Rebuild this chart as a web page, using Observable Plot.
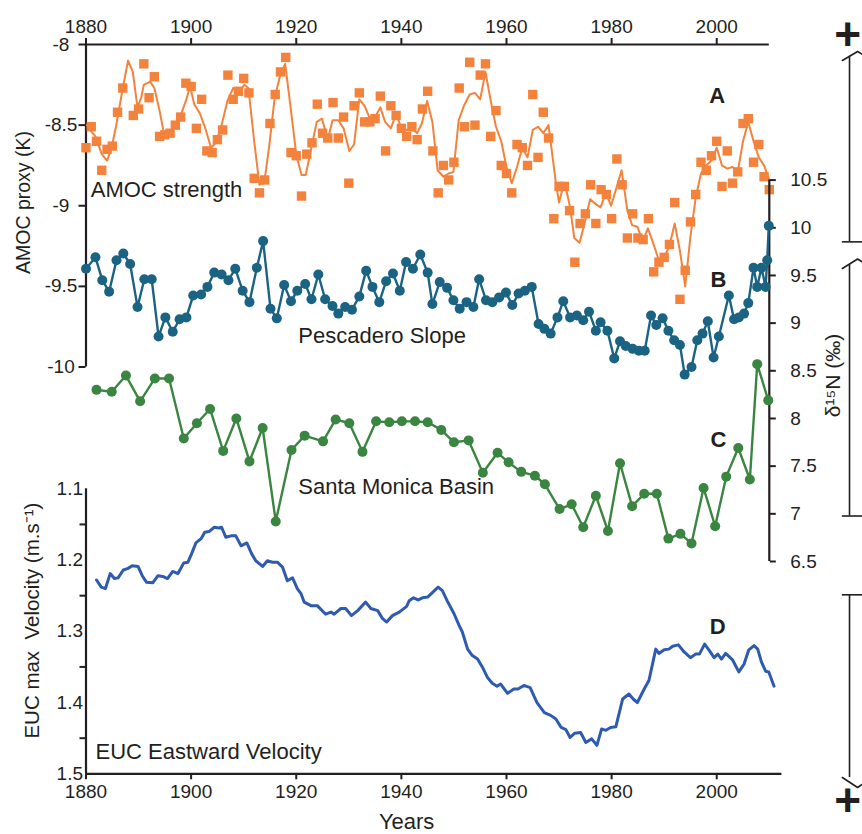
<!DOCTYPE html>
<html>
<head>
<meta charset="utf-8">
<script src="https://cdn.jsdelivr.net/npm/d3@7"></script>
<script src="https://cdn.jsdelivr.net/npm/@observablehq/plot@0.6"></script>
<style>
  html, body { margin: 0; padding: 0; background: #ffffff; }
  #wrap { position: relative; width: 862px; height: 834px; overflow: hidden; background: #ffffff; }
  #wrap svg { position: absolute; left: 0; top: 0; }
</style>
</head>
<body>
<div id="wrap"></div>
<script>
// ---------------- DATA ----------------
const xTicks = [1880, 1900, 1920, 1940, 1960, 1980, 2000];

// A: AMOC proxy (K) — annual squares
const amocYears = [1880,1881,1882,1883,1884,1885,1886,1887,1889,1890,1891,1892,1893,1894,1895,1896,1897,1898,1899,
  1900,1901,1902,1903,1904,1905,1906,1907,1908,1909,1910,1911,1912,1913,1914,1915,1916,1917,1918,1919,
  1920,1921,1922,1923,1924,1925,1926,1927,1928,1929,1930,1931,1932,1933,1934,1935,1936,1937,1938,1939,
  1940,1941,1942,1943,1944,1945,1946,1947,1948,1949,1950,1951,1952,1953,1954,1955,1956,1957,1958,1959,
  1960,1961,1962,1963,1964,1965,1966,1967,1968,1969,1970,1971,1972,1973,1974,1975,1976,1977,1978,1979,
  1980,1981,1982,1983,1984,1985,1986,1987,1988,1989,1990,1991,1992,1993,1994,1995,1996,1997,1998,1999,
  2000,2001,2002,2003,2004,2005,2006,2007,2008,2009,2010];
const amocValues = [-8.64,-8.51,-8.60,-8.78,-8.65,-8.63,-8.42,-8.27,-8.44,-8.40,-8.12,-8.33,-8.20,-8.57,-8.56,-8.55,-8.50,-8.45,-8.24,
  -8.26,-8.52,-8.34,-8.66,-8.67,-8.59,-8.53,-8.19,-8.34,-8.29,-8.21,-8.30,-8.83,-8.92,-8.84,-8.49,-8.31,-8.17,-8.08,-8.67,
  -8.69,-8.94,-8.68,-8.61,-8.37,-8.55,-8.58,-8.36,-8.58,-8.45,-8.86,-8.38,-8.30,-8.48,-8.48,-8.46,-8.32,-8.66,-8.38,-8.44,
  -8.52,-8.57,-8.51,-8.59,-8.40,-8.29,-8.66,-8.92,-8.75,-8.84,-8.73,-8.27,-8.51,-8.11,-8.50,-8.19,-8.12,-8.57,-8.41,-8.75,
  -8.80,-8.92,-8.62,-8.64,-8.75,-8.31,-8.70,-8.42,-8.58,-9.08,-8.88,-8.88,-9.03,-9.35,-9.11,-9.05,-8.87,-9.11,-8.90,-8.93,
  -9.08,-8.71,-8.87,-9.20,-9.05,-9.20,-9.21,-9.08,-9.41,-9.35,-9.32,-9.24,-8.98,-9.58,-9.40,-9.10,-8.93,-8.73,-8.78,-8.69,
  -8.60,-8.88,-8.66,-8.86,-8.79,-8.49,-8.46,-8.73,-8.62,-8.82,-8.90];

// A: smoothed AMOC line
const amocSmoothYears = [1880.2,1881,1881.8,1883,1884,1884.8,1885.7,1887,1888,1888.9,1889.8,1890.5,1891,1892.2,1893,1894,1894.8,1895.8,1897,1898,1899,1899.8,
  1900.6,1901.7,1902.6,1903.8,1904.7,1905.8,1906.9,1908,1909,1910.1,1910.9,1912,1913,1913.9,1914.9,1915.9,1917.1,1917.9,1919,
  1920,1921,1921.8,1923,1923.9,1924.9,1926,1926.9,1928,1929,1930.1,1931,1932,1933,1933.9,1935,1936,1936.9,1938,1939,
  1939.9,1940.9,1941.9,1943,1943.9,1944.9,1945.9,1946.9,1948,1949,1949.9,1950.9,1951.9,1953,1954,1955,1956,1957,1958,1959,
  1960,1961,1962,1963,1964,1965,1966,1967,1968,1969.4,1970,1970.7,1971.3,1972.1,1972.9,1973.9,1975,1975.9,1977,1977.9,1978.9,
  1979.9,1980.9,1981.9,1983,1983.9,1984.9,1985.9,1986.9,1988,1989,1990,1991,1992,1993,1994,1995,1996,1997,1998,1999,
  2000,2001,2002,2003,2004,2005,2006,2007,2008,2009,2010];
const amocSmoothValues = [-8.50,-8.54,-8.57,-8.68,-8.72,-8.65,-8.51,-8.27,-8.10,-8.17,-8.39,-8.33,-8.25,-8.23,-8.27,-8.41,-8.55,-8.55,-8.50,-8.44,-8.35,-8.26,
  -8.37,-8.43,-8.51,-8.64,-8.61,-8.50,-8.35,-8.27,-8.30,-8.25,-8.27,-8.60,-8.87,-8.86,-8.62,-8.33,-8.17,-8.12,-8.41,
  -8.68,-8.81,-8.81,-8.62,-8.48,-8.46,-8.59,-8.47,-8.47,-8.52,-8.66,-8.62,-8.34,-8.38,-8.45,-8.45,-8.39,-8.48,-8.52,-8.43,
  -8.51,-8.53,-8.52,-8.55,-8.49,-8.35,-8.48,-8.78,-8.82,-8.80,-8.79,-8.47,-8.38,-8.31,-8.30,-8.34,-8.17,-8.35,-8.51,-8.60,
  -8.76,-8.86,-8.76,-8.64,-8.70,-8.53,-8.51,-8.55,-8.50,-8.86,-8.98,-8.89,-8.89,-9.01,-9.20,-9.23,-9.09,-8.96,-8.99,-9.01,-8.92,
  -9.00,-8.89,-8.78,-9.03,-9.12,-9.13,-9.22,-9.14,-9.24,-9.34,-9.32,-9.25,-9.11,-9.28,-9.50,-9.19,-8.95,-8.80,-8.75,-8.72,
  -8.64,-8.75,-8.77,-8.76,-8.79,-8.60,-8.48,-8.60,-8.70,-8.75,-8.84];

// B: Pescadero Slope δ15N (‰)
const pescaderoYears = [1880,1881.8,1883.1,1884.4,1885.8,1887.1,1888.4,1889.8,1891.1,1892.5,1893.8,1895.1,1896.5,1897.8,1899.1,
  1900.4,1901.9,1903.1,1904.4,1905.8,1907.1,1908.4,1909.8,1911.1,1912.5,1913.7,1915.1,1916.3,1917.7,1919,
  1920.2,1921.7,1922.9,1924.2,1925.5,1926.9,1928,1929.3,1930.6,1932,1933.3,1934.5,1935.8,1937.1,1938.4,1939.7,
  1940.9,1942.2,1943.6,1945,1945.9,1947.3,1948.7,1949.9,1951.1,1952.4,1953.7,1954.8,1956.1,1957.3,1958.6,1959.9,
  1961.1,1962.3,1963.5,1964.8,1966.1,1967.2,1968.4,1969.7,1970.8,1972.1,1973.4,1974.6,1975.7,1977,1977.9,1979.2,
  1980.5,1981.6,1982.7,1984,1985.2,1986.3,1987.5,1988.5,1989.7,1990.8,1991.9,1993,1993.9,1995.2,1996.3,1997.3,1998.3,1999.4,
  2000.4,2002.3,2003.3,2004.2,2005.2,2006,2007,2007.7,2008.5,2009.3,2009.6,2009.9];
const pescaderoValues = [9.57,9.69,9.45,9.33,9.66,9.73,9.62,9.17,9.46,9.46,8.86,9.06,8.91,9.04,9.06,
  9.29,9.30,9.38,9.53,9.51,9.45,9.57,9.34,9.22,9.58,9.86,9.15,9.05,9.40,9.23,
  9.34,9.41,9.25,9.51,9.25,9.18,9.10,9.17,9.14,9.28,9.55,9.38,9.22,9.44,9.52,9.34,
  9.64,9.57,9.72,9.53,9.20,9.43,9.37,9.24,9.15,9.22,9.17,9.46,9.24,9.22,9.27,9.32,
  9.19,9.31,9.34,9.38,8.99,8.94,8.89,9.06,9.23,9.06,9.08,9.03,9.12,8.92,9.01,8.92,
  8.63,8.81,8.76,8.73,8.71,8.71,9.08,8.98,9.05,8.92,8.82,8.77,8.46,8.54,8.82,8.89,9.02,8.64,
  8.86,9.29,9.04,9.06,9.10,9.21,9.58,9.38,9.58,9.38,9.66,10.02];

// C: Santa Monica Basin δ15N (‰)
const santaMonicaYears = [1882,1884.9,1887.6,1890.3,1893.1,1895.8,1898.6,1901.1,1903.6,1906.1,1908.6,1911.1,1913.6,1916.1,1919.1,
  1921.6,1925.1,1927.5,1930.1,1932.6,1935.2,1937.7,1940.1,1942.6,1945,1947.6,1950,1952.8,1955.5,1958.3,
  1960.4,1962.8,1965.4,1967.3,1970.1,1972.4,1974.6,1977,1979.3,1981.6,1983.9,1986.2,1988.6,1990.8,1993.1,
  1995.2,1997.5,1999.7,2001.8,2004.1,2006.3,2007.7,2009.8];
const santaMonicaValues = [8.30,8.28,8.45,8.18,8.42,8.42,7.79,7.95,8.10,7.66,8.00,7.55,7.90,6.92,7.67,
  7.82,7.76,7.99,7.95,7.65,7.97,7.96,7.97,7.97,7.96,7.88,7.75,7.77,7.43,7.64,
  7.54,7.44,7.40,7.31,7.05,7.10,6.86,7.19,6.82,7.53,7.08,7.21,7.21,6.74,6.79,
  6.69,7.27,6.87,7.39,7.69,7.36,8.57,8.19];

// D: EUC max velocity (m.s-1)
const eucYears = [1882,1882.9,1883.7,1884.6,1885.4,1886.1,1887.1,1887.9,1888.8,1889.9,1890.7,1891.5,1892.7,1893.7,1894.6,1895.5,1896.5,1897.5,1898.6,1899.4,
  1900.1,1900.9,1901.9,1902.6,1903.4,1904.4,1905.3,1905.8,1906.6,1907.6,1908.5,1909.5,1910.6,1911.5,1912.3,1913.6,1914.5,1915.5,1916.4,1917.4,1918.3,1919.3,
  1920.2,1920.9,1921.5,1922.8,1924,1925.6,1926.6,1927.2,1928.5,1929.4,1930.5,1931.7,1933.2,1934.2,1935.5,1936.4,1937.2,1938.3,1939.6,
  1941,1941.5,1942.3,1943.2,1944,1945,1946,1947,1947.8,1948.7,1950,1951,1951.6,1952.6,1953.5,1954.5,1955.4,1956.4,1957.3,1958.2,1958.9,
  1960.2,1961.4,1962.2,1963.3,1964.5,1965.8,1967.2,1968.4,1969.4,1970.4,1971.3,1972.1,1973,1974.1,1975.1,1976.2,1977.2,1978.1,1978.9,1979.8,
  1980.8,1982.1,1983.3,1984.1,1984.9,1986.2,1987.1,1988.4,1989,1990,1990.9,1991.6,1992.7,1993.8,1995,1996,1996.7,1997.7,1998.5,1999.5,
  2000.2,2000.9,2001.7,2003,2004.2,2005.2,2006.1,2007.1,2007.8,2008.5,2009.3,2009.9,2010.9];
const eucValues = [1.228,1.238,1.240,1.219,1.226,1.225,1.214,1.212,1.208,1.209,1.222,1.231,1.232,1.222,1.223,1.226,1.216,1.219,1.204,1.203,
  1.191,1.176,1.170,1.161,1.160,1.154,1.155,1.154,1.168,1.166,1.166,1.180,1.176,1.191,1.201,1.209,1.201,1.203,1.203,1.210,1.229,1.225,
  1.240,1.247,1.259,1.264,1.264,1.276,1.273,1.276,1.268,1.268,1.278,1.271,1.259,1.268,1.271,1.282,1.287,1.278,1.273,
  1.265,1.257,1.253,1.256,1.253,1.252,1.245,1.238,1.243,1.257,1.275,1.292,1.301,1.325,1.334,1.339,1.350,1.365,1.373,1.377,1.374,
  1.387,1.381,1.381,1.376,1.379,1.400,1.414,1.418,1.423,1.435,1.438,1.449,1.443,1.442,1.456,1.451,1.460,1.437,1.439,1.435,
  1.434,1.395,1.388,1.395,1.400,1.381,1.369,1.325,1.331,1.326,1.325,1.321,1.319,1.329,1.337,1.332,1.332,1.318,1.326,1.337,
  1.332,1.339,1.331,1.340,1.357,1.346,1.326,1.320,1.325,1.343,1.356,1.357,1.377];

// Axis ticks
const amocTicks = [-8, -8.5, -9, -9.5, -10];
const d15Ticks = [6.5, 7, 7.5, 8, 8.5, 9, 9.5, 10, 10.5];
const eucLabelTicks = [1.1, 1.2, 1.3, 1.4, 1.5];
const eucMinorTicks = [1.15, 1.25, 1.35, 1.45];

// ---------------- STYLE ----------------
const INK = "#231f20";
const ORANGE = "#f3823c";
const TEAL = "#1b6383";
const GREEN = "#3a8540";
const EUCBLUE = "#2e5bb0";
const FONT = "'Liberation Sans', Arial, Helvetica, sans-serif";

const zip = (xs, ys) => xs.map((x, i) => ({x, y: ys[i]}));
const amocPts = zip(amocYears, amocValues);
const amocSmooth = zip(amocSmoothYears, amocSmoothValues);
const pescadero = zip(pescaderoYears, pescaderoValues);
const santaMonica = zip(santaMonicaYears, santaMonicaValues);
const euc = zip(eucYears, eucValues);

function layer(yOpts, marks) {
  return Plot.plot({
    width: 862, height: 834,
    marginLeft: 85.5, marginRight: 93.2, marginTop: 44, marginBottom: 60.7,
    x: {domain: [1880, 2010], axis: null},
    y: {...yOpts, axis: null},
    style: {background: "transparent", fontFamily: FONT, fontSize: "19px", color: INK},
    marks
  });
}
const seg = (pts) => pts.map(([x, y]) => ({x, y}));

// Layer A: AMOC
const plotA = layer({domain: [-10, -8], range: [366.5, 44]}, [
  Plot.ruleY([-8], {x1: 1880, x2: 2010, stroke: INK, strokeWidth: 2.2}),
  Plot.ruleX([1880], {y1: -10, y2: -8, stroke: INK, strokeWidth: 2.2}),
  Plot.axisX({anchor: "top", ticks: xTicks, tickSize: 7, tickPadding: 5, tickFormat: d => String(d), label: null, strokeWidth: 2}),
  Plot.axisY({anchor: "left", ticks: amocTicks, tickSize: 7, tickFormat: () => "", label: null, strokeWidth: 2}),
  Plot.axisY({anchor: "left", ticks: amocTicks, tickSize: 0, tickPadding: 25, textAnchor: "middle", tickFormat: d => String(d), label: null}),
  Plot.line(amocSmooth, {x: "x", y: "y", stroke: ORANGE, strokeWidth: 2}),
  Plot.dot(amocPts, {x: "x", y: "y", symbol: "square", r: 5.3, fill: ORANGE, stroke: null}),
  Plot.text(["AMOC strength"], {x: 1880.9, y: -8.9, textAnchor: "start", fontSize: 22, fill: INK}),
  Plot.text(["A"], {x: 2000.1, y: -8.317, fontSize: 22, fontWeight: "bold", fill: INK}),
  Plot.text(["AMOC proxy (K)"], {x: 1868.1, y: -8.98, rotate: -90, fontSize: 19.5, fill: INK}),
  // right-side bracket (top)
  Plot.line(seg([[2023.9, -8.099], [2026.8, -8.0435], [2029.6, -8.099]]), {x: "x", y: "y", stroke: INK, strokeWidth: 1.6}),
  Plot.ruleX([2025.26], {y1: -8.073, y2: -9.224, stroke: INK, strokeWidth: 1.6}),
  Plot.ruleY([-9.224], {x1: 2023.9, x2: 2029.6, stroke: INK, strokeWidth: 1.6}),
  Plot.text(["+"], {x: 2024.9, y: -7.94, fontSize: 46, fontWeight: "bold", fill: INK})
]);

// Layer B + C: δ15N
const plotBC = layer({domain: [6.5, 10.5], range: [561, 179.6]}, [
  Plot.ruleX([2010], {y1: 6.5, y2: 10.5, stroke: INK, strokeWidth: 2.2}),
  Plot.axisY({anchor: "right", ticks: d15Ticks, tickSize: 6, tickPadding: 15, tickFormat: d => String(d), label: null, strokeWidth: 2}),
  Plot.line(pescadero, {x: "x", y: "y", stroke: TEAL, strokeWidth: 2.4}),
  Plot.dot(pescadero, {x: "x", y: "y", r: 5, fill: TEAL, stroke: null}),
  Plot.line(santaMonica, {x: "x", y: "y", stroke: GREEN, strokeWidth: 2.4}),
  Plot.dot(santaMonica, {x: "x", y: "y", r: 5, fill: GREEN, stroke: null}),
  Plot.text(["Pescadero Slope"], {x: 1920.4, y: 8.87, textAnchor: "start", fontSize: 22, fill: INK}),
  Plot.text(["Santa Monica Basin"], {x: 1920.4, y: 7.285, textAnchor: "start", fontSize: 22, fill: INK}),
  Plot.text(["B"], {x: 2000.3, y: 9.448, fontSize: 22, fontWeight: "bold", fill: INK}),
  Plot.text(["C"], {x: 2000.3, y: 7.77, fontSize: 22, fontWeight: "bold", fill: INK}),
  Plot.text(["δ¹⁵N (‰)"], {x: 2022.2, y: 8.45, rotate: -90, fontSize: 21, fill: INK}),
  // right-side bracket (middle)
  Plot.line(seg([[2023.9, 9.573], [2026.8, 9.673], [2029.6, 9.573]]), {x: "x", y: "y", stroke: INK, strokeWidth: 1.6}),
  Plot.ruleX([2025.26], {y1: 9.615, y2: 6.977, stroke: INK, strokeWidth: 1.6}),
  Plot.ruleY([6.977], {x1: 2023.9, x2: 2029.6, stroke: INK, strokeWidth: 1.6})
]);

// Layer D: EUC
const plotD = layer({domain: [1.1, 1.5], range: [488.3, 773.3]}, [
  Plot.ruleX([1880], {y1: 1.1, y2: 1.5, stroke: INK, strokeWidth: 2.2}),
  Plot.ruleY([1.5], {x1: 1880, x2: 2012.4, stroke: INK, strokeWidth: 2.2}),
  Plot.axisY({anchor: "left", ticks: eucMinorTicks, tickSize: 6, tickFormat: () => "", label: null, strokeWidth: 2}),
  Plot.axisY({anchor: "left", ticks: eucLabelTicks, tickSize: 0, tickPadding: 3, tickFormat: d => d.toFixed(1), label: null}),
  Plot.axisX({anchor: "bottom", ticks: xTicks, tickSize: 6, tickPadding: 5, tickFormat: d => String(d), label: null, strokeWidth: 2}),
  Plot.line(euc, {x: "x", y: "y", stroke: EUCBLUE, strokeWidth: 3}),
  Plot.text(["EUC Eastward Velocity"], {x: 1881.8, y: 1.469, textAnchor: "start", fontSize: 22, fill: INK}),
  Plot.text(["D"], {x: 2000.2, y: 1.294, fontSize: 22, fontWeight: "bold", fill: INK}),
  Plot.text(["Years"], {x: 1941, y: 1.568, fontSize: 22, fill: INK}),
  Plot.text(["EUC max\u00a0 Velocity (m.s⁻¹)"], {x: 1869.8, y: 1.285, rotate: -90, fontSize: 20.5, fill: INK}),
  // right-side bracket (bottom)
  Plot.ruleY([1.2488], {x1: 2023.9, x2: 2029.6, stroke: INK, strokeWidth: 1.6}),
  Plot.ruleX([2025.26], {y1: 1.2488, y2: 1.5052, stroke: INK, strokeWidth: 1.6}),
  Plot.line(seg([[2023.9, 1.5052], [2026.8, 1.5192], [2029.6, 1.5052]]), {x: "x", y: "y", stroke: INK, strokeWidth: 1.6}),
  Plot.text(["+"], {x: 2024.9, y: 1.538, fontSize: 46, fontWeight: "bold", fill: INK})
]);

const wrap = document.getElementById("wrap");
wrap.append(plotA, plotBC, plotD);
</script>
</body>
</html>
